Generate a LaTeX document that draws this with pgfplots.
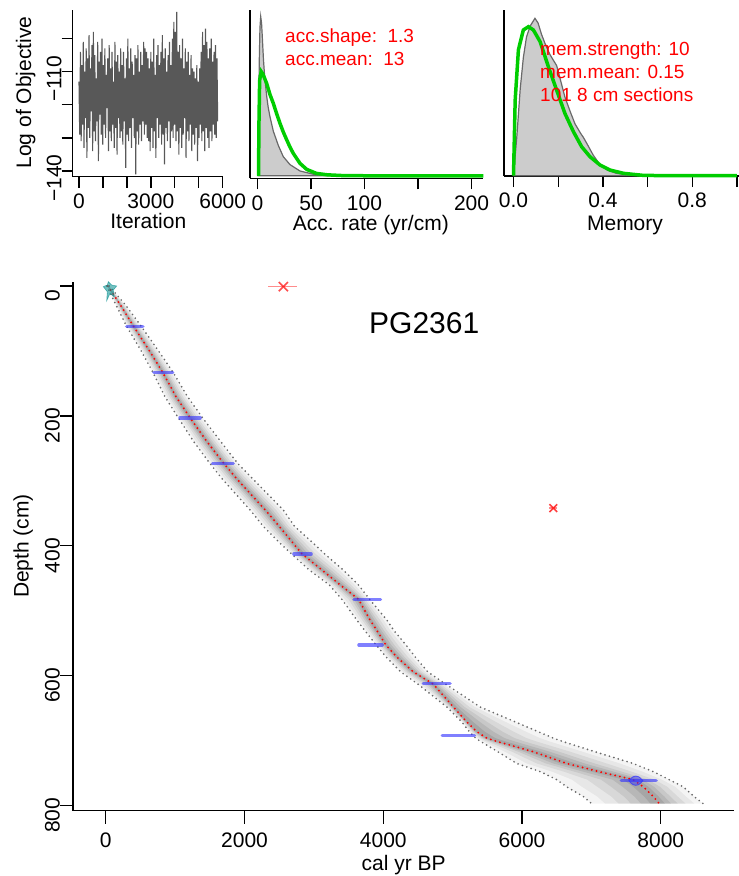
\documentclass[border=0pt]{standalone}
\usepackage{pgfplots}
\pgfplotsset{compat=1.18}
\usepackage{pgfplotstable}
\usepackage{fontspec}
\setmainfont{Liberation Sans}
\definecolor{bgreen}{RGB}{0,205,0}
\definecolor{dgray}{RGB}{105,105,105}
\definecolor{tgray}{RGB}{88,88,88}
\definecolor{lgray}{RGB}{204,204,204}
\definecolor{dblue}{RGB}{50,50,255}
\definecolor{tealc}{RGB}{0,140,140}

% age model: depth (cm), mean age, younger bound, older bound
\pgfplotstableread{
depth mean young old
0 30 15 50
30 215 150 290
62 400 300 510
100 630 510 760
133 820 680 970
170 1010 850 1175
203 1215 1045 1395
240 1460 1270 1660
273 1700 1500 1900
296 1880 1670 2110
345 2300 2082 2560
370 2500 2270 2720
396 2700 2511 2991
412 2824 2673 3150
437 3112 2930 3420
460 3376 3220 3640
482 3640 3400 3800
514 3808 3616 4049
530 3905 3730 4150
553 4039 3900 4330
571 4193 4040 4460
594 4432 4250 4640
613 4721 4500 4900
648 5009 4914 5394
671 5202 5130 5900
686 5346 5240 6230
696 5490 5330 6450
701 5634 5400 6580
717 6162 5650 7050
735 6643 5922 7600
748 7123 6270 7900
760 7600 6500 8120
771 7748 6643 8324
786 7892 6883 8480
797 7978 7004 8612
}\agemodel

% same envelope as a closed outline (younger side down, older side up)
\pgfplotstableread{
depth mean bound
0 30 15
30 215 150
62 400 300
100 630 510
133 820 680
170 1010 850
203 1215 1045
240 1460 1270
273 1700 1500
296 1880 1670
345 2300 2082
370 2500 2270
396 2700 2511
412 2824 2673
437 3112 2930
460 3376 3220
482 3640 3400
514 3808 3616
530 3905 3730
553 4039 3900
571 4193 4040
594 4432 4250
613 4721 4500
648 5009 4914
671 5202 5130
686 5346 5240
696 5490 5330
701 5634 5400
717 6162 5650
735 6643 5922
748 7123 6270
760 7600 6500
771 7748 6643
786 7892 6883
797 7978 7004
797 7978 8612
786 7892 8480
771 7748 8324
760 7600 8120
748 7123 7900
735 6643 7600
717 6162 7050
701 5634 6580
696 5490 6450
686 5346 6230
671 5202 5900
648 5009 5394
613 4721 4900
594 4432 4640
571 4193 4460
553 4039 4330
530 3905 4150
514 3808 4049
482 3640 3800
460 3376 3640
437 3112 3420
412 2824 3150
396 2700 2991
370 2500 2720
345 2300 2560
296 1880 2110
273 1700 1900
240 1460 1660
203 1215 1395
170 1010 1175
133 820 970
100 630 760
62 400 510
30 215 290
0 30 50
}\envelope

\pgfplotsset{
  base/.style={scale only axis, anchor=south west,
    axis x line*=bottom, axis y line*=left, tick align=outside,
    axis line style={line width=1.3pt, black, -},
    major tick style={line width=1.3pt, black},
    tick label style={font=\fontsize{21}{25}\selectfont, inner sep=0pt},
    yticklabel style={rotate=90, anchor=south},
    xticklabel style={anchor=north},
    clip=false},
  shade/.style={fill=black, fill opacity=#1, draw=none},
}

\begin{document}
\begin{tikzpicture}
\path[use as bounding box] (0pt,0pt) rectangle (739pt,-876pt);

% ---------- Panel 1: trace ----------
\begin{axis}[base, at={(72.7pt,-176.7pt)}, width=150.6pt, height=166.7pt,
  xmin=-263, xmax=6025, ymin=-141.7, ymax=-91.4,
  xtick={0,1000,2000,3000,4000,5000,6000}, xticklabels={0,,,3000,,,6000},
  ytick={-140,-130,-120,-110,-100}, yticklabels={−140,,,−110,},
  xticklabel style={yshift=-6pt}, yticklabel style={xshift=-7pt},
  major tick length=11pt]
\addplot[tgray, line width=1.1pt] coordinates {
(0,-113)(30,-129)(60,-104)(90,-131)(120,-108)(150,-126)(180,-101)(210,-133)(240,-110)(270,-124)
(300,-103)(330,-136)(360,-106)(390,-127)(420,-99)(450,-130)(480,-109)(510,-122)(540,-102)(570,-134)
(600,-98)(630,-128)(660,-105)(690,-131)(720,-112)(750,-125)(780,-101)(810,-137)(840,-107)(870,-123)
(900,-104)(930,-129)(960,-100)(990,-132)(1020,-108)(1050,-126)(1080,-103)(1110,-130)(1140,-111)(1170,-121)
(1200,-106)(1230,-134)(1260,-102)(1290,-128)(1320,-109)(1350,-131)(1380,-104)(1410,-126)(1440,-113)(1470,-133)
(1500,-101)(1530,-127)(1560,-107)(1590,-135)(1620,-105)(1650,-124)(1680,-110)(1710,-130)(1740,-103)(1770,-128)
(1800,-108)(1830,-132)(1860,-104)(1890,-125)(1920,-112)(1950,-139)(1980,-106)(2010,-129)(2040,-100)(2070,-131)
(2100,-109)(2130,-127)(2160,-103)(2190,-133)(2220,-107)(2250,-124)(2280,-111)(2310,-130)(2340,-105)(2370,-141)
(2400,-106)(2430,-128)(2460,-102)(2490,-132)(2520,-110)(2550,-126)(2580,-104)(2610,-131)(2640,-108)(2670,-125)
(2700,-101)(2730,-129)(2760,-103)(2790,-126)(2820,-104)(2850,-130)(2880,-106)(2910,-131)(2940,-109)(2970,-134)
(3000,-104)(3030,-127)(3060,-107)(3090,-133)(3120,-100)(3150,-128)(3180,-111)(3210,-136)(3240,-105)(3270,-124)
(3300,-102)(3330,-130)(3360,-108)(3390,-126)(3420,-104)(3450,-132)(3480,-99)(3510,-129)(3540,-106)(3570,-138)
(3600,-103)(3630,-127)(3660,-110)(3690,-131)(3720,-105)(3750,-125)(3780,-101)(3810,-133)(3840,-108)(3870,-128)
(3900,-100)(3930,-130)(3960,-95)(3990,-126)(4020,-98)(4050,-131)(4080,-92)(4110,-128)(4140,-104)(4170,-135)
(4200,-102)(4230,-127)(4260,-106)(4290,-133)(4320,-100)(4350,-129)(4380,-109)(4410,-124)(4440,-103)(4470,-136)
(4500,-107)(4530,-128)(4560,-104)(4590,-131)(4620,-111)(4650,-126)(4680,-105)(4710,-134)(4740,-109)(4770,-129)
(4800,-110)(4830,-132)(4860,-112)(4890,-127)(4920,-108)(4950,-137)(4980,-113)(5010,-130)(5040,-109)(5070,-126)
(5100,-104)(5130,-131)(5160,-98)(5190,-128)(5220,-102)(5250,-134)(5280,-97)(5310,-127)(5340,-101)(5370,-130)
(5400,-106)(5430,-133)(5460,-103)(5490,-128)(5520,-100)(5550,-131)(5580,-107)(5610,-126)(5640,-104)(5670,-129)
(5700,-102)(5730,-130)(5760,-106)(5790,-125)
};
\end{axis}

% ---------- Panel 2: accumulation rate ----------
\begin{axis}[base, at={(250pt,-178.3pt)}, width=233.3pt, height=168.3pt,
  xmin=-7, xmax=211, ymin=-0.016, ymax=1.042,
  xtick={0,50,100,150,200}, xticklabels={0,50,100,,200},
  xticklabel style={yshift=-6pt},
  ytick=\empty, major tick length=11pt]
\addplot[fill=lgray, draw=dgray, line width=1.2pt] coordinates {
(0.5,0)(1.0,0.3)(1.6,0.7)(2.3,0.93)(3.0,1.0)(3.8,0.96)(4.6,0.86)(5.5,0.74)(6.4,0.65)(7.5,0.57)(8.6,0.5)
(10,0.43)(11.7,0.37)(14.8,0.28)(19.5,0.19)(24.1,0.12)(30.4,0.07)(39.7,0.03)(52,0.01)(70,0.002)(202,0)
} -- cycle;
\addplot[bgreen, line width=3.5pt] coordinates {
(1,0)(1.3,0.3)(2,0.6)(3.5,0.655)(5,0.64)(8.6,0.58)(11.7,0.51)(14.8,0.455)(17.9,0.39)(21,0.33)
(24.1,0.275)(27.4,0.224)(30.4,0.18)(33.5,0.14)(39.7,0.078)(46,0.04)(55,0.015)(65,0.006)(80,0.001)(100,0)(211,0)
};
\end{axis}

% ---------- Panel 3: memory ----------
\begin{axis}[base, at={(504pt,-176pt)}, width=235pt, height=166pt,
  xmin=-0.0425, xmax=1.009, ymin=-0.002, ymax=1.053,
  xtick={0,0.2,0.4,0.6,0.8,1.0}, xticklabels={0.0,,0.4,,0.8,},
  xticklabel style={yshift=-6pt},
  ytick=\empty, major tick length=11pt]
\addplot[fill=lgray, draw=dgray, line width=1.2pt] coordinates {
(0,0)(0.015,0.25)(0.03,0.55)(0.044,0.75)(0.058,0.88)(0.074,0.95)(0.096,1.0)(0.11,0.97)(0.125,0.90)
(0.141,0.84)(0.163,0.77)(0.18,0.73)(0.193,0.70)(0.208,0.62)(0.23,0.5)(0.253,0.41)(0.275,0.33)(0.3,0.27)
(0.312,0.245)(0.33,0.2)(0.357,0.13)(0.387,0.07)(0.42,0.035)(0.46,0.015)(0.52,0.004)(0.6,0)
} -- cycle;
\addplot[bgreen, line width=3.5pt] coordinates {
(0,0)(0.0075,0.48)(0.022,0.80)(0.044,0.926)(0.067,0.947)(0.089,0.926)(0.119,0.852)(0.156,0.693)
(0.193,0.544)(0.230,0.396)(0.268,0.280)(0.305,0.184)(0.342,0.121)(0.387,0.068)(0.432,0.036)
(0.492,0.015)(0.581,0.002)(0.7,0)(1.0,0)
};
\end{axis}

% ---------- Main age-depth plot (depth plotted downward as negative y) ----------
\begin{axis}[base, at={(73pt,-810.7pt)}, width=661pt, height=529pt,
  xmin=-473, xmax=9055, ymin=-807.8, ymax=6.6,
  xtick={0,2000,4000,6000,8000}, xticklabels={0,2000,4000,6000,8000},
  ytick={-800,-600,-400,-200,0}, yticklabels={800,600,400,200,0},
  xticklabel style={yshift=-8.5pt}, yticklabel style={xshift=-9.7pt},
  major tick length=13pt]
% grey shading of the age distributions
\addplot[shade=0.045] table[x=bound, y expr=-\thisrow{depth}]{\envelope} -- cycle;
\addplot[shade=0.055] table[x expr=\thisrow{mean}+0.8*(\thisrow{bound}-\thisrow{mean}), y expr=-\thisrow{depth}]{\envelope} -- cycle;
\addplot[shade=0.065] table[x expr=\thisrow{mean}+0.6*(\thisrow{bound}-\thisrow{mean}), y expr=-\thisrow{depth}]{\envelope} -- cycle;
\addplot[shade=0.075] table[x expr=\thisrow{mean}+0.42*(\thisrow{bound}-\thisrow{mean}), y expr=-\thisrow{depth}]{\envelope} -- cycle;
\addplot[shade=0.085] table[x expr=\thisrow{mean}+0.27*(\thisrow{bound}-\thisrow{mean}), y expr=-\thisrow{depth}]{\envelope} -- cycle;
\addplot[shade=0.095] table[x expr=\thisrow{mean}+0.13*(\thisrow{bound}-\thisrow{mean}), y expr=-\thisrow{depth}]{\envelope} -- cycle;
% bounds and mean
\addplot[dgray, line width=1.9pt, dash pattern=on 0pt off 4.6pt, line cap=round] table[x=young, y expr=-\thisrow{depth}]{\agemodel};
\addplot[dgray, line width=1.9pt, dash pattern=on 0pt off 4.6pt, line cap=round] table[x=old, y expr=-\thisrow{depth}]{\agemodel};
\addplot[red, line width=2.1pt, dash pattern=on 0pt off 4.8pt, line cap=round] table[x=mean, y expr=-\thisrow{depth}]{\agemodel};
% top (post-bomb) date
\addplot[fill=tealc, draw=tealc, fill opacity=0.55, draw opacity=0.6, line width=0.6pt] coordinates {
(36,6.6)(85,1.5)(157,0)(108,-6.2)(118,-16.5)(61,-11.2)(13,-22.6)(22,-8.8)(-36,-1)(22,1.5)} -- cycle;
% calibrated dates
\pgfplotsset{datebar/.style={dblue, opacity=0.62, line width=3.3pt, line cap=round}}
\addplot[datebar] coordinates {(300,-62)(535,-62)};
\addplot[datebar] coordinates {(692,-133)(966,-133)};
\addplot[datebar] coordinates {(1068,-203)(1360,-203)};
\addplot[datebar] coordinates {(1538,-273)(1838,-273)};
\addplot[datebar] coordinates {(2710,-412.6)(2960,-412.6)};
\addplot[datebar] coordinates {(3576,-482.4)(3960,-482.4)};
\addplot[datebar] coordinates {(3648,-552.7)(3984,-552.7)};
\addplot[datebar] coordinates {(4575,-611.7)(4963,-611.7)};
\addplot[datebar] coordinates {(4849,-691.8)(5314,-691.8)};
\addplot[datebar] coordinates {(7430,-761.6)(7933,-761.6)};
\addplot[fill=dblue, draw=dblue, fill opacity=0.45, draw opacity=0.7, line width=0.9pt] coordinates {
(7540,-761.6)(7570,-758)(7600,-755.5)(7640,-754.5)(7680,-755.5)(7710,-758)(7740,-761.6)(7710,-765.2)(7680,-767.7)(7640,-768.7)(7600,-767.7)(7570,-765.2)} -- cycle;
% outliers (red crosses)
\addplot[red, opacity=0.45, line width=1.5pt] coordinates {(2342,-1)(2760,-1)};
\addplot[red, opacity=0.7, only marks, mark=x, mark size=6.5pt, mark options={line width=1.6pt}] coordinates {(2559,-1)};
\addplot[red, opacity=0.45, line width=1.5pt] coordinates {(6390,-342)(6510,-342)};
\addplot[red, opacity=0.75, only marks, mark=x, mark size=5.5pt, mark options={line width=1.6pt}] coordinates {(6450,-342)};
\end{axis}

% ---------- labels ----------
\tikzset{lab/.style={font=\fontsize{21}{25}\selectfont, anchor=base, inner sep=0pt}}
\node[lab] at (148.3pt,-228pt) {Iteration};
\node[lab] at (370.8pt,-230pt) {Acc. rate (yr/cm)};
\node[lab] at (625pt,-230pt) {Memory};
\node[lab, rotate=90] at (31pt,-92.5pt) {Log of Objective};
\node[lab, rotate=90] at (28.5pt,-546pt) {Depth (cm)};
\node[lab] at (403.7pt,-870.7pt) {cal yr BP};
\node[font=\fontsize{30}{36}\selectfont, anchor=base, inner sep=0pt] at (424.2pt,-333.3pt) {PG2361};
\node[font=\fontsize{19}{23}\selectfont, text=red, anchor=base west, inner sep=0pt] at (285pt,-42.3pt) {acc.shape:~~1.3};
\node[font=\fontsize{19}{23}\selectfont, text=red, anchor=base west, inner sep=0pt] at (285pt,-65.7pt) {acc.mean:~~13};
\node[font=\fontsize{19}{23}\selectfont, text=red, anchor=base west, inner sep=0pt] at (540pt,-55pt) {mem.strength: 10};
\node[font=\fontsize{19}{23}\selectfont, text=red, anchor=base west, inner sep=0pt] at (540pt,-78.3pt) {mem.mean: 0.15};
\node[font=\fontsize{19}{23}\selectfont, text=red, anchor=base west, inner sep=0pt] at (540pt,-101.7pt) {101 8 cm sections};
\end{tikzpicture}
\end{document}
